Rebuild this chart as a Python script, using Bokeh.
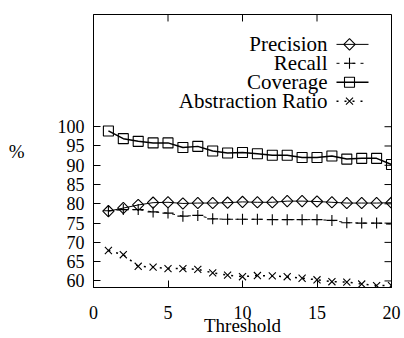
import math
from bokeh.plotting import figure
from bokeh.models import FixedTicker, Range1d
from bokeh.core.properties import value
from bokeh.embed import file_html
from bokeh.resources import INLINE

threshold = list(range(1, 21))
precision = [78.1, 78.9, 79.7, 80.3, 80.4, 80.1, 80.2, 80.2, 80.3, 80.5, 80.4, 80.4, 80.7, 80.7, 80.6, 80.4, 80.2, 80.2, 80.2, 80.3]
recall = [78.2, 78.5, 78.5, 77.9, 77.6, 76.8, 77.0, 76.1, 76.0, 76.0, 76.0, 75.9, 75.9, 75.9, 75.9, 75.7, 75.1, 75.0, 75.0, 74.8]
coverage = [98.9, 96.9, 96.2, 95.8, 95.8, 94.6, 94.9, 93.7, 93.2, 93.3, 93.0, 92.6, 92.6, 92.0, 92.0, 92.4, 91.6, 91.8, 91.8, 90.2]
abstraction = [67.9, 66.8, 63.8, 63.6, 63.2, 63.2, 63.0, 62.1, 61.5, 61.1, 61.4, 61.3, 61.1, 60.7, 60.3, 59.8, 59.7, 59.2, 58.8, 58.8]
series_names = ["Precision", "Recall", "Coverage", "Abstraction Ratio"]
x_ticks = [0, 5, 10, 15, 20]
y_ticks = [60, 65, 70, 75, 80, 85, 90, 95, 100]

FONT = "Liberation Serif"
X0, X1 = 0, 20
Y0, Y1 = 58.3, 129.1
frame_l, frame_r, frame_t, frame_b = 93, 391, 14, 288
TICK = 7

p = figure(width=404, height=338, output_backend="svg", toolbar_location=None,
           x_range=Range1d(X0, X1), y_range=Range1d(Y0, Y1),
           min_border_left=frame_l, min_border_right=404 - frame_r,
           min_border_top=frame_t, min_border_bottom=338 - frame_b,
           x_axis_label="Threshold", y_axis_label="%")
p.grid.visible = False
p.outline_line_color = "black"
p.outline_line_width = 1
p.background_fill_color = "white"
p.border_fill_color = "white"

for ax in p.xaxis:
    ax.ticker = FixedTicker(ticks=x_ticks)
for ax in p.yaxis:
    ax.ticker = FixedTicker(ticks=y_ticks)
    ax.axis_label_orientation = "horizontal"
    ax.axis_label_standoff = 30

for ax in list(p.xaxis) + list(p.yaxis):
    ax.major_tick_in = TICK
    ax.major_tick_out = 0
    ax.minor_tick_in = 0
    ax.minor_tick_out = 0
    ax.major_tick_line_color = "black"
    ax.axis_line_color = "black"
    ax.major_label_text_font = FONT
    ax.major_label_text_font_size = "18px"
    ax.major_label_text_color = "black"
    ax.axis_label_text_font = FONT
    ax.axis_label_text_font_size = "19px"
    ax.axis_label_text_font_style = "normal"
    ax.axis_label_text_color = "black"
    ax.major_label_standoff = 9
p.xaxis.major_label_standoff = 18
p.xaxis.axis_label_standoff = -7

# mirrored ticks on top and right edges (gnuplot style)
dy = TICK / (frame_b - frame_t) * (Y1 - Y0)
dx = TICK / (frame_r - frame_l) * (X1 - X0)
p.segment(x0=x_ticks, y0=[Y1] * len(x_ticks), x1=x_ticks, y1=[Y1 - dy] * len(x_ticks),
          line_color="black", line_width=1)
p.segment(x0=[X1] * len(y_ticks), y0=y_ticks, x1=[X1 - dx] * len(y_ticks), y1=y_ticks,
          line_color="black", line_width=1)

styles = [
    dict(marker="square", angle=math.pi / 4, size=8, dash="solid", lw=1.0),
    dict(marker="cross", angle=0, size=11, dash="3 5", lw=1.0),
    dict(marker="square", angle=0, size=10, dash="solid", lw=1.5),
    dict(marker="x", angle=0, size=10, dash="2 6", lw=1.5),
]
data = [precision, recall, coverage, abstraction]

for vals, st in zip(data, styles):
    p.line(threshold, vals, line_color="black", line_width=st["lw"], line_dash=st["dash"])
    p.scatter(threshold, vals, marker=st["marker"], angle=st["angle"], size=st["size"],
              fill_color=None, line_color="black", line_width=1.1)

# legend (gnuplot style: right-aligned label, sample to the right)
def px_to_x(px):
    return X0 + (px - frame_l) / (frame_r - frame_l) * (X1 - X0)
def py_to_y(py):
    return Y1 - (py - frame_t) / (frame_b - frame_t) * (Y1 - Y0)

row_py = [44, 63, 82, 101]
for name, st, py in zip(series_names, styles, row_py):
    y = py_to_y(py)
    p.text([px_to_x(327)], [y], text=[name], text_align="right", text_baseline="middle",
           text_font=value(FONT), text_font_size="21px", text_color="black")
    p.line([px_to_x(336), px_to_x(368)], [y, y], line_color="black", line_width=st["lw"],
           line_dash=st["dash"])
    p.scatter([px_to_x(349)], [y], marker=st["marker"], angle=st["angle"], size=st["size"],
              fill_color=None, line_color="black", line_width=1.1)

open("out.html", "w").write(file_html(p, INLINE))
